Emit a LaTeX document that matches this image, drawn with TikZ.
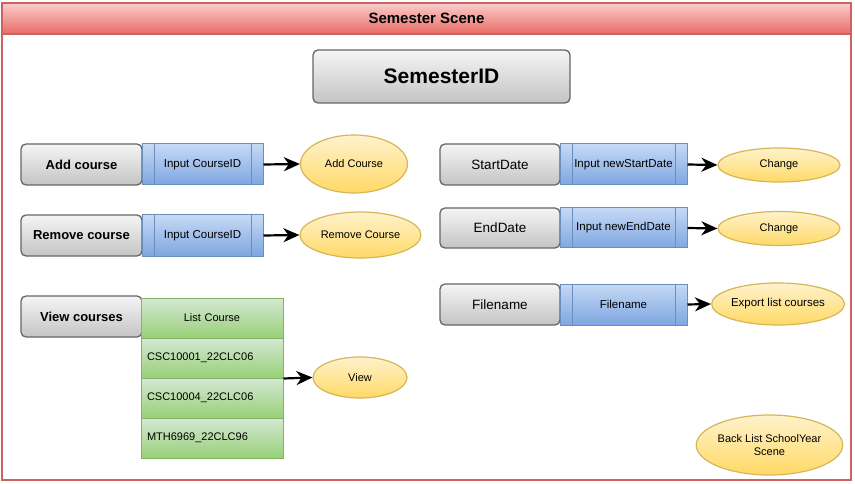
\documentclass[tikz,border=0pt]{standalone}
\usepackage{fontspec}
\setmainfont{Liberation Sans}
\usetikzlibrary{arrows.meta,shapes.geometric}
\definecolor{gtop}{HTML}{F5F5F5}
\definecolor{gbot}{HTML}{C4C4C4}
\definecolor{gstroke}{HTML}{666666}
\definecolor{btop}{HTML}{C6D9F5}
\definecolor{bbot}{HTML}{7EA6E0}
\definecolor{bstroke}{HTML}{6C8EBF}
\definecolor{ntop}{HTML}{D5E8D4}
\definecolor{nbot}{HTML}{97D077}
\definecolor{nstroke}{HTML}{82B366}
\definecolor{ytop}{HTML}{FFF2CC}
\definecolor{ybot}{HTML}{FFD966}
\definecolor{ystroke}{HTML}{D6B656}
\definecolor{rtop}{HTML}{F8CECC}
\definecolor{rbot}{HTML}{EA6B66}
\definecolor{rstroke}{HTML}{C86462}
\newcommand\fsz[2]{\fontsize{#1}{#2}\selectfont}
\tikzset{
  greybox/.style={draw=gstroke, line width=1.3pt, rounded corners=5pt, top color=gtop, bottom color=gbot,
    minimum width=121pt, minimum height=41pt, inner sep=0pt, font=\fsz{13}{15}\bfseries},
  greyboxr/.style={greybox, minimum width=120pt, font=\fsz{13.5}{15}},
  bluebox/.style={draw=bstroke, line width=1pt, top color=btop, bottom color=bbot,
    minimum width=121pt, minimum height=41pt, inner sep=0pt, font=\fsz{11.5}{13},
    path picture={
      \draw[bstroke, line width=1pt] ([xshift=12pt]path picture bounding box.north west) -- ([xshift=12pt]path picture bounding box.south west);
      \draw[bstroke, line width=1pt] ([xshift=-12pt]path picture bounding box.north east) -- ([xshift=-12pt]path picture bounding box.south east);
    }},
  yel/.style={ellipse, draw=ystroke, line width=1.2pt, top color=ytop, bottom color=ybot,
    inner sep=0pt, font=\fsz{11}{13}, align=center},
  row/.style={draw=nstroke, line width=1pt, top color=ntop, bottom color=nbot,
    text width=130pt, inner xsep=6pt, inner ysep=0pt, minimum height=40pt, font=\fsz{11}{13}, align=left},
  arr/.style={-{Stealth[length=16pt,width=14pt,inset=5pt]}, line width=2.2pt, black},
}
\begin{document}
\begin{tikzpicture}[x=1pt,y=-1pt]
\useasboundingbox (0,0) rectangle (855,484);
% frame
\fill[white] (2,3) rectangle (851,480);
\shade[top color=rtop, bottom color=rbot] (2,3) rectangle (851,34);
\draw[rstroke, line width=1.2pt] (2,3) rectangle (851,480);
\draw[rstroke, line width=1.2pt] (2,34) -- (851,34);
\node[font=\fsz{15}{17}\bfseries] (title) at (426.5,18.5) {Semester Scene};
% semester id
\node[greybox, minimum width=257pt, minimum height=53pt, font=\fsz{21}{24}\bfseries] (semid) at (441.5,76.5) {SemesterID};
% left column
\node[greybox] (add) at (81.5,164.5) {Add course};
\node[bluebox] (addin) at (202.5,164.5) {Input CourseID};
\node[yel, minimum width=107pt, minimum height=58pt] (addell) at (354,164) {Add Course};
\draw[arr] (addin.east) -- (addell.west);

\node[greybox] (rem) at (81.5,235.5) {Remove course};
\node[bluebox] (remin) at (202.5,235.5) {Input CourseID};
\node[yel, minimum width=121pt, minimum height=46pt] (remell) at (360.5,235) {Remove Course};
\draw[arr] (remin.east) -- (remell.west);

\node[greybox] (view) at (81.5,316.5) {View courses};
\node[row, align=center] (lc) at (212,318) {List Course};
\node[row] (r1) at (212,358) {CSC10001\_22CLC06};
\node[row] (r2) at (212,398) {CSC10004\_22CLC06};
\node[row] (r3) at (212,438) {MTH6969\_22CLC96};
\node[yel, minimum width=94pt, minimum height=41pt] (viewell) at (360,377.5) {View};
\draw[arr] (r1.south east) -- (viewell.west);

% right column
\node[greyboxr] (start) at (500,164.5) {StartDate};
\node[bluebox, minimum width=127pt] (startin) at (623.5,164.5) {Input newStartDate};
\node[yel, minimum width=122pt, minimum height=34pt] (chA) at (779,165) {Change};
\draw[arr] (startin.east) -- (chA.west);

\node[greyboxr, minimum height=40pt] (end) at (500,228) {EndDate};
\node[bluebox, minimum width=127pt, minimum height=40pt] (endin) at (623.5,228) {Input newEndDate};
\node[yel, minimum width=122pt, minimum height=34pt] (chB) at (779,228.5) {Change};
\draw[arr] (endin.east) -- (chB.west);

\node[greyboxr] (fname) at (500,304.5) {Filename};
\node[bluebox, minimum width=127pt] (fnin) at (623.5,304.5) {Filename};
\node[yel, minimum width=120pt, minimum height=42pt, font=\fsz{11.5}{13}] (export) at (778,304) {Export list courses};
\draw[arr] (fnin.east) -- (export.west);

\node[yel, minimum width=115pt, minimum height=60pt] (back) at (769.5,445) {Back List SchoolYear\\Scene};
\end{tikzpicture}
\end{document}
